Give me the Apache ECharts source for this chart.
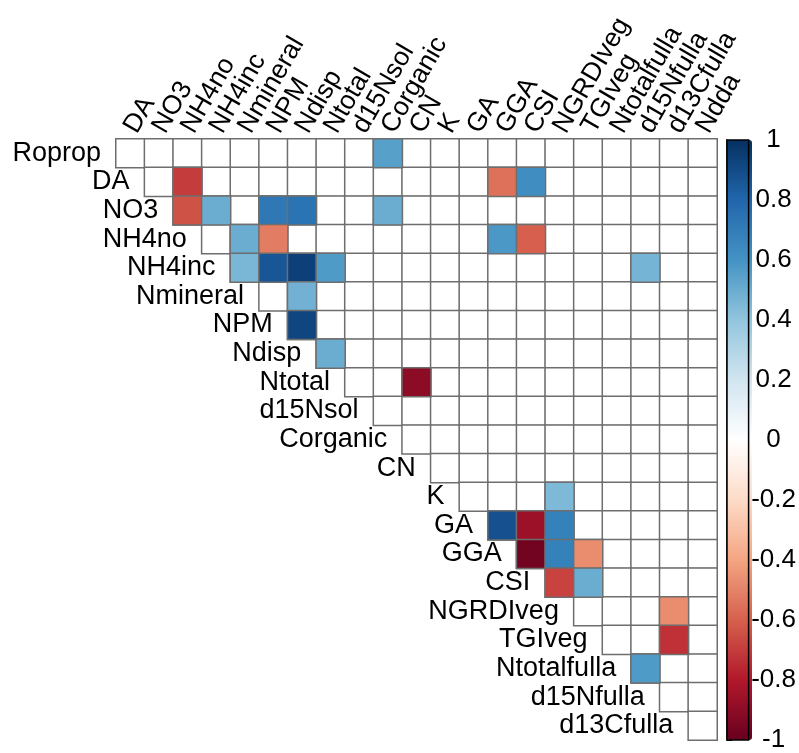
<!DOCTYPE html>
<html>
<head>
<meta charset="utf-8">
<script src="https://cdn.jsdelivr.net/npm/echarts@6/dist/echarts.min.js"></script>
<style>
  html, body { margin: 0; padding: 0; background: #fff; }
  #chart { width: 799px; height: 753px; }
</style>
</head>
<body>
<div id="chart"></div>
<script>
// Variables on the rows (left) and on the columns (top) of the upper triangle
const rowVars = ['Roprop', 'DA', 'NO3', 'NH4no', 'NH4inc', 'Nmineral', 'NPM', 'Ndisp',
  'Ntotal', 'd15Nsol', 'Corganic', 'CN', 'K', 'GA', 'GGA', 'CSI', 'NGRDIveg', 'TGIveg',
  'Ntotalfulla', 'd15Nfulla', 'd13Cfulla'];
const colVars = ['DA', 'NO3', 'NH4no', 'NH4inc', 'Nmineral', 'NPM', 'Ndisp', 'Ntotal',
  'd15Nsol', 'Corganic', 'CN', 'K', 'GA', 'GGA', 'CSI', 'NGRDIveg', 'TGIveg',
  'Ntotalfulla', 'd15Nfulla', 'd13Cfulla', 'Ndda'];

// Significant correlations [row variable, column variable, r]; all other cells stay blank
const sigCorr = [
  ['Roprop', 'Corganic', 0.55],
  ['DA', 'NH4no', -0.70],
  ['DA', 'GGA', -0.55],
  ['DA', 'CSI', 0.62],
  ['NO3', 'NH4no', -0.64],
  ['NO3', 'NH4inc', 0.50],
  ['NO3', 'NPM', 0.72],
  ['NO3', 'Ndisp', 0.74],
  ['NO3', 'Corganic', 0.50],
  ['NH4no', 'Nmineral', 0.50],
  ['NH4no', 'NPM', -0.52],
  ['NH4no', 'GGA', 0.58],
  ['NH4no', 'CSI', -0.60],
  ['NH4inc', 'Nmineral', 0.46],
  ['NH4inc', 'NPM', 0.86],
  ['NH4inc', 'Ndisp', 0.94],
  ['NH4inc', 'Ntotal', 0.57],
  ['NH4inc', 'd15Nfulla', 0.47],
  ['Nmineral', 'Ndisp', 0.48],
  ['NPM', 'Ndisp', 0.92],
  ['Ndisp', 'Ntotal', 0.50],
  ['Ntotal', 'CN', -0.90],
  ['K', 'NGRDIveg', 0.45],
  ['GA', 'GGA', 0.88],
  ['GA', 'CSI', -0.86],
  ['GA', 'NGRDIveg', 0.68],
  ['GGA', 'CSI', -0.97],
  ['GGA', 'NGRDIveg', 0.68],
  ['GGA', 'TGIveg', -0.47],
  ['CSI', 'NGRDIveg', -0.68],
  ['CSI', 'TGIveg', 0.50],
  ['NGRDIveg', 'd13Cfulla', -0.47],
  ['TGIveg', 'd13Cfulla', -0.73],
  ['Ntotalfulla', 'd15Nfulla', 0.57]
];

// Diverging red-white-blue palette, from r = -1 to r = 1
const rdbu = ['#67001F', '#B2182B', '#D6604D', '#F4A582', '#FDDBC7', '#FFFFFF',
  '#D1E5F0', '#92C5DE', '#4393C3', '#2166AC', '#053061'];

const FONT = '"Liberation Sans", Arial, sans-serif';
const GRID = { left: 116, top: 139, size: 601 };
const cellSize = GRID.size / colVars.length;
const borderStyle = { borderColor: '#6e6e6e', borderWidth: 1.5 };

// Every cell of the upper triangle (outlined, white when blank)
const frame = [];
rowVars.forEach((r, i) => {
  colVars.forEach((c, j) => { if (j >= i) frame.push([j, i, 0]); });
});
const cells = sigCorr.map(([r, c, v]) => [colVars.indexOf(c), rowVars.indexOf(r), v]);
// Row names sit just left of the first cell of their row
const rowLabels = rowVars.map((r, i) => [i, i, r]);

const chart = echarts.init(document.getElementById('chart'));
chart.setOption({
  backgroundColor: '#fff',
  animation: false,
  textStyle: { fontFamily: FONT },
  grid: [
    { left: GRID.left, top: GRID.top, width: GRID.size, height: GRID.size },
    { left: 727, top: 140, width: 25, height: 600, show: true, z: 6,
      backgroundColor: 'transparent', borderColor: '#000', borderWidth: 1.5 }
  ],
  xAxis: [
    { gridIndex: 0, type: 'category', data: colVars, position: 'top',
      axisLine: { show: false }, axisTick: { show: false }, splitLine: { show: false },
      axisLabel: { rotate: -60, interval: 0, margin: 8, fontSize: 26.5, color: '#000', fontFamily: FONT } },
    { gridIndex: 1, type: 'value', min: 0, max: 1, show: false }
  ],
  yAxis: [
    { gridIndex: 0, type: 'category', data: rowVars, inverse: true, show: false },
    { gridIndex: 1, type: 'value', min: -1, max: 1, interval: 0.2, position: 'right',
      axisLine: { show: true, lineStyle: { color: '#000', width: 1.5 } },
      axisTick: { show: true, length: 5, lineStyle: { color: '#000', width: 1 } },
      splitLine: { show: false },
      axisLabel: { margin: 25, align: 'center', fontSize: 26, color: '#000', fontFamily: FONT,
        formatter: v => String(+v.toFixed(1)) } }
  ],
  visualMap: {
    type: 'continuous', min: -1, max: 1, seriesIndex: 1, calculable: false,
    orient: 'vertical', left: 727, top: 140, itemWidth: 25, itemHeight: 600,
    padding: 0, text: null, showLabel: false, hoverLink: false,
    inRange: { color: rdbu }
  },
  series: [
    { type: 'heatmap', xAxisIndex: 0, yAxisIndex: 0, data: frame,
      itemStyle: Object.assign({ color: '#fff' }, borderStyle),
      emphasis: { disabled: true }, silent: true },
    { type: 'heatmap', xAxisIndex: 0, yAxisIndex: 0, data: cells,
      itemStyle: Object.assign({}, borderStyle),
      emphasis: { disabled: true } },
    { type: 'scatter', xAxisIndex: 0, yAxisIndex: 0, data: rowLabels,
      symbol: 'rect', symbolSize: cellSize, silent: true,
      itemStyle: { color: 'rgba(0,0,0,0)', opacity: 1 },
      label: { show: true, position: 'left', distance: 15, fontSize: 27, color: '#000',
        fontFamily: FONT, formatter: p => p.data[2] } }
  ]
});
</script>
</body>
</html>
